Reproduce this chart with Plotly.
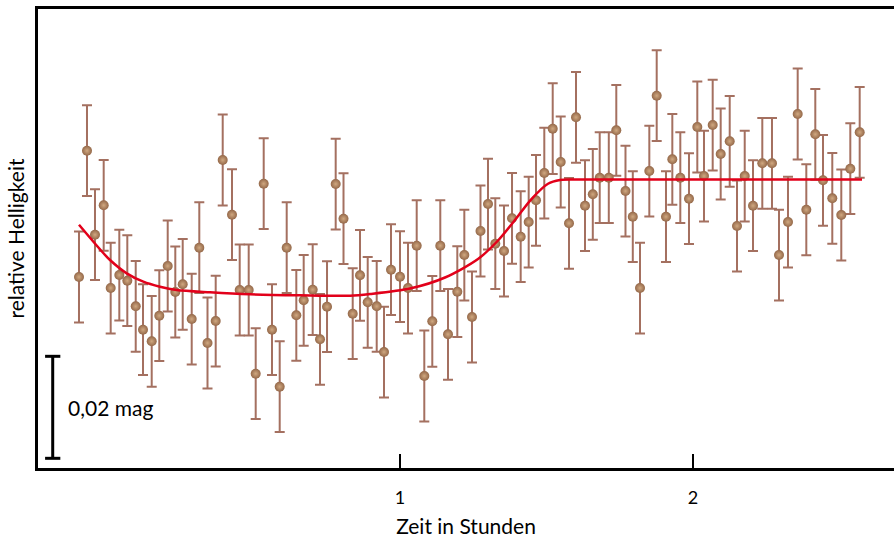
import plotly.graph_objects as go

# Measurement times (hours)
time_h = [-0.0956, -0.0683, -0.0410, -0.0113, 0.0126, 0.0420, 0.0693, 0.0980, 0.1229, 0.1526,
          0.1785, 0.2072, 0.2331, 0.2584, 0.2891, 0.3150, 0.3430, 0.3710, 0.3949, 0.4266,
          0.4529, 0.4836, 0.5075, 0.5348, 0.5631, 0.5894, 0.6133, 0.6461, 0.6713, 0.7020,
          0.7270, 0.7509, 0.7805, 0.8072, 0.8386, 0.8635, 0.8898, 0.9205, 0.9454, 0.9693,
          1.0000, 1.0273, 1.0570, 1.0829, 1.1102, 1.1375, 1.1638, 1.1956, 1.2195, 1.2457,
          1.2747, 1.3003, 1.3253, 1.3549, 1.3823, 1.4119, 1.4392, 1.4642, 1.4925, 1.5212,
          1.5485, 1.5768, 1.6007, 1.6314, 1.6580, 1.6816, 1.7126, 1.7382, 1.7696, 1.7945,
          1.8191, 1.8509, 1.8761, 1.9078, 1.9294, 1.9567, 1.9863, 2.0147, 2.0375, 2.0672,
          2.0945, 2.1253, 2.1502, 2.1765, 2.2048, 2.2365, 2.2696, 2.2935, 2.3242, 2.3573,
          2.3867, 2.4174, 2.4437, 2.4754, 2.5061, 2.5369, 2.5689]

# Relative brightness (mag)
brightness = [0.03706, 0.06182, 0.04535, 0.05112, 0.03490, 0.03745, 0.03633, 0.03131, 0.02673, 0.02445,
              0.02947, 0.03922, 0.03412, 0.03563, 0.02882, 0.04280, 0.02412, 0.02843, 0.06000, 0.04927,
              0.03451, 0.03451, 0.01810, 0.05535, 0.02673, 0.01555, 0.04280, 0.02955, 0.03249, 0.03457,
              0.02484, 0.03124, 0.05529, 0.04849, 0.02986, 0.03739, 0.03210, 0.03131, 0.02235, 0.03849,
              0.03712, 0.03490, 0.04320, 0.01765, 0.02837, 0.04320, 0.02582, 0.03418, 0.04137, 0.02922,
              0.04608, 0.05137, 0.04359, 0.04216, 0.04857, 0.04496, 0.04784, 0.05210, 0.05745, 0.06614,
              0.05961, 0.04759, 0.06837, 0.05104, 0.05327, 0.05653, 0.05653, 0.06582, 0.05392, 0.04888,
              0.03490, 0.05784, 0.07261, 0.04888, 0.06014, 0.05653, 0.05241, 0.06647, 0.05686, 0.06686,
              0.06118, 0.06367, 0.04706, 0.05686, 0.05104, 0.05935, 0.05935, 0.04137, 0.04784, 0.06902,
              0.05025, 0.06504, 0.05602, 0.05249, 0.04922, 0.05829, 0.06543]

error_mag = 0.0089

# Fitted transit model curve
fit_time = [-0.0956, -0.0239, 0.0102, 0.0672, 0.1239, 0.1809, 0.2379, 0.3515, 0.4881, 0.6587,
            0.8294, 0.8976, 1.0341, 1.1536, 1.2662, 1.3345, 1.3925, 1.4471, 1.5051, 1.5461,
            1.5973, 2.5768]
fit_mag = [0.04731, 0.04249, 0.04039, 0.03778, 0.03614, 0.03516, 0.03451, 0.03406, 0.03367, 0.03347,
           0.03339, 0.03373, 0.03480, 0.03696, 0.04059, 0.04422, 0.04824, 0.05225, 0.05535, 0.05608,
           0.05618, 0.05618]

x_ticks = [1, 2]
x_tick_labels = ["1", "2"]
scale_mag = 0.02
scale_base = 0.00151

FONT = "Lato"

fig = go.Figure()

fig.add_trace(go.Scatter(
    x=time_h, y=brightness, mode="markers",
    marker=dict(size=10, color="#946849",
                gradient=dict(type="radial", color="#d0a880"),
                line=dict(width=0)),
    error_y=dict(type="constant", value=error_mag, color="#a47060",
                 thickness=2, width=5),
    hoverinfo="skip", showlegend=False,
))

fig.add_trace(go.Scatter(
    x=fit_time, y=fit_mag, mode="lines",
    line=dict(color="#e2001a", width=2.5, shape="spline", smoothing=0.8),
    hoverinfo="skip", showlegend=False,
))

# Scale bar 0,02 mag
xs = -0.1853
cap = 0.026
fig.add_shape(type="line", xref="x", yref="y", x0=xs, x1=xs,
              y0=scale_base, y1=scale_base + scale_mag,
              line=dict(color="black", width=3))
for yy in (scale_base, scale_base + scale_mag):
    fig.add_shape(type="line", xref="x", yref="y", x0=xs - cap, x1=xs + cap,
                  y0=yy, y1=yy, line=dict(color="black", width=3))
fig.add_annotation(x=-0.141, y=scale_base + scale_mag / 2, xref="x", yref="y",
                   text="0,02 mag", showarrow=False, xanchor="left", yanchor="middle",
                   font=dict(family=FONT, size=21, color="black"))

fig.update_layout(
    width=894, height=539,
    margin=dict(l=38, r=0, t=9, b=71),
    paper_bgcolor="white", plot_bgcolor="white",
    font=dict(family=FONT, color="black"),
)
fig.update_xaxes(
    range=[-0.2355, 2.686], showgrid=False, zeroline=False,
    showline=True, linecolor="black", linewidth=3, mirror=True,
    tickvals=x_ticks, ticktext=x_tick_labels,
    ticks="inside", ticklen=14, tickwidth=2, tickcolor="black",
    tickfont=dict(family=FONT, size=18), ticklabelstandoff=11,
    title=dict(text="Zeit in Stunden", font=dict(family=FONT, size=21), standoff=13),
)
fig.update_yaxes(
    range=[-0.00039, 0.08961], showgrid=False, zeroline=False,
    showline=True, linecolor="black", linewidth=3, mirror=False,
    showticklabels=False, ticks="",
    title=dict(text="relative Helligkeit", font=dict(family=FONT, size=21), standoff=5),
)

fig.write_html(
    "out.html",
    config={"displayModeBar": False},
    post_script="document.body.style.margin='0';document.body.style.overflow='hidden';",
)
